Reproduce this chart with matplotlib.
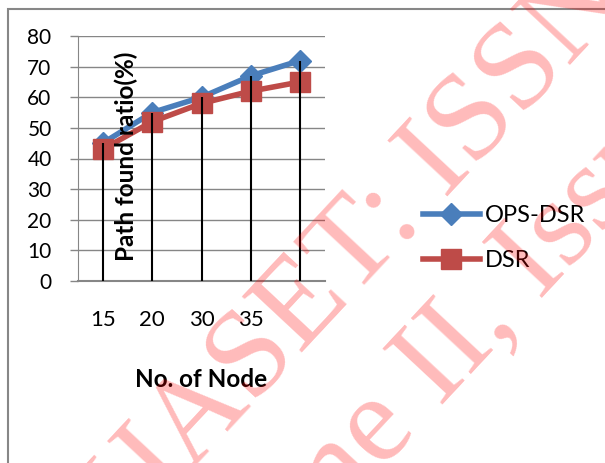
import matplotlib
matplotlib.use('Agg')
import matplotlib.pyplot as plt
from matplotlib.patches import Rectangle

# data
node_labels = ['15', '20', '30', '35', '']
ops_dsr = [45, 55, 60, 67, 72]
dsr = [43, 52, 58, 62, 65]
y_ticks = [0, 10, 20, 30, 40, 50, 60, 70, 80]

plt.rcParams['font.family'] = ['Lato', 'DejaVu Sans']

W, H = 605, 463
fig = plt.figure(figsize=(W / 100, H / 100), dpi=100)
ax = fig.add_axes([78 / W, 182 / H, 247 / W, 245 / H])

x = list(range(len(ops_dsr)))
ax.plot(x, ops_dsr, color='#4A7EBB', lw=4, marker='D', ms=11, label='OPS-DSR', zorder=3)
ax.plot(x, dsr, color='#BE4B48', lw=4, marker='s', ms=14, label='DSR', zorder=3)
# black drop lines from the axis up to the OPS-DSR points
ax.vlines(x, 0, ops_dsr, color='black', lw=1.5, zorder=4)

ax.set_xlim(-0.5, len(x) - 0.5)
ax.set_ylim(0, 80)
ax.set_yticks(y_ticks)
ax.yaxis.grid(True, color='#868686', lw=1)
ax.set_axisbelow(True)

ax.set_xticks(x)
ax.set_xticklabels(node_labels, fontsize=16)
ax.tick_params(axis='x', length=0, pad=21)
ax.tick_params(axis='y', length=6, width=1, color='#868686', labelsize=15, pad=13)

for s in ['top', 'right']:
    ax.spines[s].set_visible(False)
ax.spines['left'].set_color('#868686')
ax.spines['bottom'].set_color('#868686')
ax.spines['bottom'].set_linewidth(1.5)

ax.text(0.194, 0.508, 'Path found ratio(%)', transform=ax.transAxes, rotation=90,
        ha='center', va='center', fontsize=17.5, fontweight='bold', zorder=5)
ax.set_xlabel('No. of Node', fontsize=17.5, fontweight='bold', va='center')
ax.xaxis.set_label_coords(0.498, -0.404)

ax.legend(loc='center left', bbox_to_anchor=(423 / W, 1 - 238 / H),
          bbox_transform=fig.transFigure, frameon=False, fontsize=17,
          handlelength=2.4, handletextpad=0.2, labelspacing=1.0,
          borderpad=0, borderaxespad=0)

# chart area border (runs off the right and bottom of the picture)
fig.add_artist(Rectangle((8 / W, -0.1), 1, 1.1 - 9 / H, transform=fig.transFigure,
                         fill=False, ec='#878787', lw=1.5))

# watermark
fig.text(130 / W, 1 - 538 / H, 'IJASET: ISSN', rotation=47, rotation_mode='anchor',
         ha='left', va='baseline', fontsize=90, family='Liberation Serif',
         color='red', alpha=0.27, zorder=10)
fig.text(155 / W, 1 - 713 / H, 'Volume II, Issue', rotation=47, rotation_mode='anchor',
         ha='left', va='baseline', fontsize=90, family='Liberation Serif',
         color='red', alpha=0.27, zorder=10)

fig.savefig('out.png', dpi=100)
